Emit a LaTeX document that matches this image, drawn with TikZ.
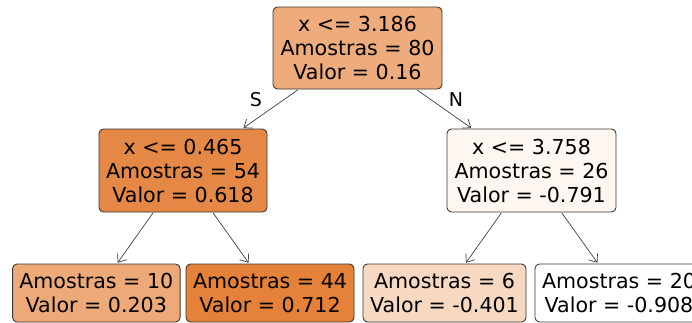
\documentclass[tikz,border=0pt]{standalone}
\usepackage{fontspec}
\setmainfont{DejaVu Sans}
\usetikzlibrary{arrows.meta}
\definecolor{cRoot}{RGB}{238,172,124}
\definecolor{cML}{RGB}{230,136,69}
\definecolor{cMR}{RGB}{253,246,241}
\definecolor{cBa}{RGB}{237,169,119}
\definecolor{cBb}{RGB}{229,129,57}
\definecolor{cBc}{RGB}{247,216,193}
\definecolor{cBd}{RGB}{255,255,255}
\begin{document}
\begin{tikzpicture}[x=1pt,y=-1pt,
  box/.style={draw=black!78, line width=0.9pt, rounded corners=4.5pt, align=center, inner sep=0pt, font=\fontsize{20.6}{24}\selectfont},
  edge/.style={draw=black!75, line width=0.7pt, shorten >=1pt, shorten <=0.5pt, -{Straight Barb[length=7pt,width=11pt]}},
  lbl/.style={font=\fontsize{19}{22}\selectfont, inner sep=0pt}]
\useasboundingbox (0,0) rectangle (692,322);
\clip (0,0) rectangle (692,322);
\node[box, fill=cRoot, minimum width=169pt, minimum height=82pt] (root) at (357.5,48) {x <= 3.186\\Amostras = 80\\Valor = 0.16};
\node[box, fill=cML, minimum width=168pt, minimum height=83pt] (ml) at (183,170.5) {x <= 0.465\\Amostras = 54\\Valor = 0.618};
\node[box, fill=cMR, minimum width=169pt, minimum height=83pt] (mr) at (531.5,170.5) {x <= 3.758\\Amostras = 26\\Valor = -0.791};
\node[box, fill=cBa, minimum width=167.5pt, minimum height=58pt] (ba) at (96.3,293) {Amostras = 10\\Valor = 0.203};
\node[box, fill=cBb, minimum width=168pt, minimum height=58pt] (bb) at (270,293) {Amostras = 44\\Valor = 0.712};
\node[box, fill=cBc, minimum width=163pt, minimum height=58pt] (bc) at (444.5,293) {Amostras = 6\\Valor = -0.401};
\node[box, fill=cBd, minimum width=168pt, minimum height=58pt] (bd) at (619,293) {Amostras = 20\\Valor = -0.908};
\draw[edge] (root) -- (ml);
\draw[edge] (root) -- (mr);
\draw[edge] (ml) -- (ba);
\draw[edge] (ml) -- (bb);
\draw[edge] (mr) -- (bc);
\draw[edge] (mr) -- (bd);
\node[lbl] (s) at (256,100) {S};
\node[lbl] (n) at (456,100) {N};
\end{tikzpicture}
\end{document}
